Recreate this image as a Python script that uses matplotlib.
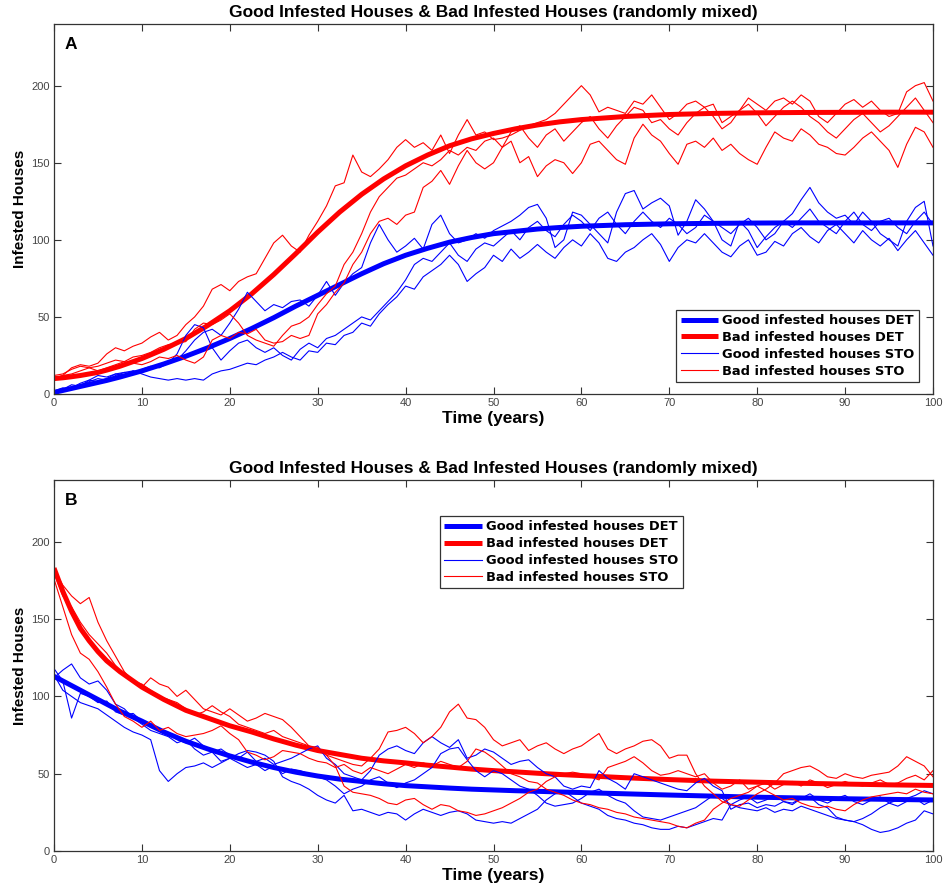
import numpy as np
import matplotlib
matplotlib.use('Agg')
import matplotlib.pyplot as plt

# ---- data ----
title = 'Good Infested Houses & Bad Infested Houses (randomly mixed)'
xlab = 'Time (years)'
ylab = 'Infested Houses'
labels = ['Good infested houses DET', 'Bad infested houses DET',
          'Good infested houses STO', 'Bad infested houses STO']

t_det = [0, 1, 2, 3, 4, 5, 6, 7.5, 10, 12.5, 15, 17.5, 20, 22.5, 25, 27.5, 30, 32.5,
         35, 37.5, 40, 42.5, 45, 47.5, 50, 52.5, 55, 57.5, 60, 65, 70, 75, 80, 85, 90, 95, 100]

# panel A deterministic
a_good_det = [1, 2.3, 3.6, 4.9, 6.2, 7.5, 8.8, 11, 15, 19.5, 24.5, 30, 36, 42.5, 49.5, 57, 64, 71,
              78, 84.5, 90, 94.5, 98.5, 101.5, 104, 105.5, 107, 108, 108.8, 109.8, 110.4, 110.7,
              110.9, 111, 111, 111, 111]
a_bad_det = [10, 10.5, 11.2, 12, 13, 14, 15.5, 18, 23, 29, 36, 44.5, 54, 65, 77.5, 91, 105, 118,
             129.5, 139.5, 148, 155, 161, 165.5, 169, 172, 174.5, 176.5, 178, 180, 181.3, 182,
             182.4, 182.6, 182.7, 182.8, 182.8]

# panel B deterministic
b_good_det = [113, 110, 107, 104, 101, 98, 95, 90.5, 84, 77, 71, 66, 61.5, 57.5, 54, 51, 48.5, 46.5,
              45, 43.5, 42.3, 41.5, 40.7, 40, 39.5, 39, 38.6, 38.2, 37.8, 37, 36.2, 35.5, 34.8,
              34.3, 33.8, 33.4, 33]
b_bad_det = [183, 168, 155, 144, 136, 129, 123, 116, 106, 98, 91, 86, 81, 77, 72.5, 68.5, 65, 62.5,
             60, 58.3, 57, 55.5, 54.3, 53, 52, 51.2, 50.3, 49.5, 48.8, 47.4, 46.2, 45.2, 44.5,
             43.8, 43.3, 42.8, 42.4]

years = list(range(101))

# panel A stochastic runs (one value per year)
a_good_sto1 = [1, 3, 6, 5, 9, 8, 10, 13, 12, 15,
               14, 16, 18, 21, 22, 28, 35, 40, 42, 38,
               46, 55, 66, 60, 54, 58, 56, 60, 61, 57,
               64, 73, 64, 72, 78, 82, 98, 110, 100, 92,
               96, 101, 94, 110, 116, 104, 98, 100, 104, 101,
               106, 109, 112, 116, 121, 123, 114, 95, 100, 118,
               116, 110, 104, 98, 118, 130, 132, 120, 124, 127,
               122, 103, 112, 126, 120, 112, 100, 96, 112, 106,
               95, 102, 108, 112, 117, 126, 134, 124, 118, 114,
               116, 110, 118, 112, 104, 100, 96, 112, 121, 125,
               96]
a_good_sto2 = [1, 2, 4, 7, 9, 12, 11, 13, 14, 15,
               13, 11, 10, 9, 10, 9, 10, 9, 13, 15,
               16, 18, 20, 19, 22, 24, 27, 24, 22, 28,
               27, 33, 32, 38, 40, 46, 44, 52, 58, 63,
               70, 68, 76, 80, 84, 90, 84, 73, 78, 82,
               90, 86, 94, 88, 92, 97, 92, 88, 95, 100,
               96, 104, 98, 88, 86, 92, 95, 100, 104, 97,
               86, 95, 100, 98, 104, 98, 92, 89, 96, 100,
               90, 92, 99, 96, 104, 108, 102, 98, 106, 110,
               104, 98, 106, 100, 96, 101, 93, 100, 106, 98,
               90]
a_good_sto3 = [2, 4, 3, 6, 8, 10, 9, 12, 14, 13,
               16, 18, 17, 20, 26, 38, 45, 43, 30, 22,
               28, 33, 35, 30, 27, 30, 25, 22, 29, 33,
               30, 36, 38, 42, 46, 50, 48, 54, 60, 66,
               74, 84, 88, 86, 92, 98, 90, 86, 94, 98,
               96, 101, 106, 100, 108, 112, 106, 102, 110, 116,
               112, 106, 114, 118, 110, 104, 112, 118, 112, 108,
               114, 110, 104, 108, 116, 112, 108, 104, 110, 114,
               108, 100, 104, 112, 108, 114, 120, 112, 108, 104,
               112, 118, 110, 106, 112, 114, 108, 104, 112, 118,
               110]
a_bad_sto1 = [10, 12, 17, 19, 18, 20, 26, 30, 28, 31,
              33, 37, 40, 35, 38, 45, 50, 57, 68, 71,
              67, 73, 76, 78, 88, 98, 103, 96, 92, 103,
              112, 122, 135, 137, 155, 144, 141, 146, 152, 160,
              165, 160, 163, 158, 168, 156, 168, 178, 168, 170,
              165, 166, 168, 171, 174, 176, 178, 182, 188, 194,
              200, 194, 183, 186, 184, 182, 190, 188, 194, 186,
              178, 182, 188, 190, 186, 188, 176, 180, 184, 192,
              188, 184, 190, 192, 188, 194, 190, 180, 176, 182,
              188, 191, 186, 190, 184, 180, 182, 196, 200, 202,
              190]
a_bad_sto2 = [12, 13, 16, 18, 17, 15, 17, 19, 21, 20,
              19, 21, 24, 23, 25, 22, 20, 24, 35, 38,
              36, 40, 39, 42, 35, 33, 34, 38, 36, 38,
              52, 58, 66, 72, 84, 92, 104, 112, 114, 110,
              116, 118, 134, 138, 145, 136, 148, 158, 150, 146,
              150, 160, 164, 150, 154, 141, 148, 152, 150, 143,
              150, 162, 164, 158, 152, 149, 166, 175, 168, 164,
              156, 149, 162, 164, 160, 166, 158, 162, 156, 152,
              149, 160, 170, 166, 164, 172, 168, 162, 160, 156,
              155, 160, 166, 170, 164, 158, 147, 162, 173, 170,
              160]
a_bad_sto3 = [10, 12, 13, 15, 17, 18, 20, 22, 21, 24,
              25, 27, 30, 32, 33, 34, 42, 46, 45, 48,
              52, 46, 38, 35, 33, 31, 38, 44, 46, 50,
              58, 65, 70, 84, 92, 104, 118, 128, 134, 140,
              142, 146, 150, 148, 152, 158, 155, 160, 158, 164,
              166, 160, 170, 174, 166, 160, 168, 172, 164, 170,
              176, 180, 172, 166, 174, 180, 186, 184, 176, 178,
              172, 168, 176, 182, 186, 180, 172, 176, 184, 188,
              182, 174, 180, 186, 190, 186, 180, 176, 170, 166,
              172, 178, 182, 176, 170, 174, 180, 186, 192, 184,
              176]

# panel B stochastic runs
b_good_sto1 = [118, 110, 86, 102, 100, 96, 97, 90, 88, 89,
               84, 80, 78, 76, 72, 70, 73, 68, 64, 66,
               62, 60, 64, 58, 60, 56, 58, 60, 63, 66,
               68, 60, 56, 50, 48, 46, 52, 62, 66, 68,
               65, 63, 70, 74, 70, 67, 72, 60, 62, 66,
               64, 60, 56, 58, 59, 54, 50, 48, 42, 40,
               42, 41, 52, 47, 44, 40, 50, 48, 46, 44,
               42, 40, 39, 44, 47, 42, 39, 27, 30, 31,
               28, 30, 29, 32, 31, 34, 35, 30, 28, 22,
               20, 19, 21, 24, 28, 31, 33, 34, 36, 39,
               37]
b_good_sto2 = [112, 117, 121, 112, 108, 110, 104, 95, 92, 86,
               82, 78, 76, 74, 70, 72, 66, 62, 64, 58,
               60, 57, 54, 56, 52, 55, 50, 53, 52, 50,
               48, 46, 42, 37, 40, 42, 46, 48, 44, 41,
               44, 46, 50, 54, 63, 66, 67, 59, 52, 48,
               52, 50, 46, 42, 40, 36, 31, 29, 30, 31,
               34, 38, 40, 36, 33, 31, 26, 22, 21, 20,
               22, 24, 26, 28, 32, 36, 34, 30, 33, 35,
               31, 33, 36, 32, 30, 34, 37, 33, 31, 34,
               36, 32, 30, 33, 35, 31, 29, 32, 34, 30,
               33]
b_good_sto3 = [114, 104, 100, 96, 94, 92, 88, 84, 80, 77,
               75, 72, 52, 45, 50, 54, 55, 57, 54, 57,
               60, 63, 65, 64, 62, 58, 48, 45, 43, 40,
               36, 33, 31, 36, 26, 27, 25, 23, 25, 24,
               20, 24, 27, 25, 23, 25, 26, 24, 20, 19,
               18, 19, 18, 21, 24, 27, 33, 37, 39, 35,
               31, 29, 27, 23, 21, 20, 18, 17, 15, 14,
               14, 16, 15, 17, 19, 21, 20, 30, 28, 27,
               26, 28, 25, 27, 26, 29, 27, 25, 23, 21,
               20, 19, 17, 14, 12, 13, 15, 18, 20, 26,
               24]
b_bad_sto1 = [182, 172, 165, 160, 164, 148, 136, 126, 116, 110,
              106, 112, 108, 106, 100, 104, 98, 92, 90, 88,
              92, 88, 84, 86, 89, 87, 85, 80, 74, 68,
              67, 62, 60, 58, 56, 55, 60, 66, 77, 78,
              80, 76, 70, 74, 80, 90, 95, 86, 85, 80,
              72, 68, 70, 72, 65, 68, 70, 66, 63, 66,
              68, 72, 76, 66, 63, 66, 68, 71, 72, 68,
              60, 62, 62, 50, 42, 37, 32, 30, 29, 33,
              37, 40, 44, 50, 52, 54, 55, 52, 48, 47,
              50, 48, 47, 49, 50, 51, 55, 61, 58, 55,
              48]
b_bad_sto2 = [180, 165, 158, 148, 140, 134, 128, 120, 114, 110,
              108, 104, 100, 98, 96, 92, 88, 90, 94, 90,
              87, 82, 80, 78, 76, 78, 74, 72, 70, 68,
              66, 62, 55, 42, 38, 37, 36, 34, 31, 30,
              33, 34, 30, 27, 30, 29, 26, 25, 23, 24,
              26, 28, 31, 34, 38, 40, 45, 48, 50, 51,
              50, 48, 46, 54, 56, 58, 61, 57, 52, 49,
              50, 52, 50, 48, 50, 44, 40, 42, 46, 40,
              42, 39, 36, 33, 34, 31, 29, 28, 29, 27,
              26, 30, 33, 35, 36, 37, 38, 37, 40, 38,
              37]
b_bad_sto3 = [176, 158, 140, 128, 124, 116, 106, 95, 87, 84,
              80, 84, 78, 80, 76, 74, 75, 76, 78, 81,
              76, 72, 64, 62, 59, 61, 65, 64, 63, 60,
              58, 57, 54, 56, 52, 50, 54, 52, 50, 53,
              56, 54, 57, 55, 58, 56, 54, 58, 66, 64,
              60, 55, 50, 48, 45, 44, 40, 38, 36, 33,
              31, 30, 28, 27, 25, 24, 22, 21, 20, 19,
              18, 16, 15, 18, 20, 27, 31, 34, 36, 38,
              42, 44, 40, 43, 45, 42, 46, 44, 41, 43,
              45, 43, 42, 44, 46, 43, 44, 47, 49, 46,
              52]

BLUE, RED = '#0000ff', '#ff0000'
TXT = 'Liberation Sans'


def panel(ax, good_det, bad_det, good_sto, bad_sto, letter, leg_loc, leg_anchor):
    ax.plot(t_det, good_det, color=BLUE, lw=3.6, label=labels[0], solid_capstyle='butt')
    ax.plot(t_det, bad_det, color=RED, lw=3.6, label=labels[1], solid_capstyle='butt')
    for i, s in enumerate(good_sto):
        ax.plot(years, s, color=BLUE, lw=0.8, label=labels[2] if i == 0 else None)
    for i, s in enumerate(bad_sto):
        ax.plot(years, s, color=RED, lw=0.8, label=labels[3] if i == 0 else None)

    ax.set_xlim(0, 100)
    ax.set_ylim(0, 240)
    ax.set_xticks(range(0, 101, 10))
    ax.set_yticks(range(0, 201, 50))
    ax.tick_params(direction='in', length=5, width=0.8, top=True, right=True,
                   labelsize=8, labelcolor='#444444', color='#333333', pad=3)
    for lab in ax.get_xticklabels() + ax.get_yticklabels():
        lab.set_fontfamily(TXT)
    for sp in ax.spines.values():
        sp.set_color('#333333')
        sp.set_linewidth(0.9)

    ax.set_title(title, fontfamily=TXT, fontweight='bold', fontsize=12.5, pad=5)
    ax.set_xlabel(xlab, fontfamily=TXT, fontweight='bold', fontsize=12.5, labelpad=2)
    ax.set_ylabel(ylab, fontfamily=TXT, fontweight='bold', fontsize=11, labelpad=3)
    ax.text(0.012, 0.945, letter, transform=ax.transAxes, fontfamily=TXT,
            fontweight='bold', fontsize=12.5, va='center', ha='left')

    leg = ax.legend(loc=leg_loc, bbox_to_anchor=leg_anchor, borderaxespad=0,
                    prop={'family': 'DejaVu Sans', 'weight': 'bold', 'size': 9.4},
                    handlelength=2.9, handletextpad=0.3, labelspacing=0.3,
                    borderpad=0.33, fancybox=False, framealpha=1)
    leg.get_frame().set_edgecolor('#333333')
    leg.get_frame().set_linewidth(0.9)


fig = plt.figure(figsize=(9.43, 8.9), dpi=100)
axA = fig.add_axes([54 / 943, 1 - 394 / 890, 879 / 943, 370 / 890])
axB = fig.add_axes([54 / 943, 1 - 851 / 890, 879 / 943, 371 / 890])

panel(axA, a_good_det, a_bad_det, [a_good_sto1, a_good_sto2, a_good_sto3],
      [a_bad_sto1, a_bad_sto2, a_bad_sto3], 'A', 'lower right', (0.984, 0.032))
panel(axB, b_good_det, b_bad_det, [b_good_sto1, b_good_sto2, b_good_sto3],
      [b_bad_sto1, b_bad_sto2, b_bad_sto3], 'B', 'upper left', (0.439, 0.903))

fig.savefig('out.png', dpi=100)
